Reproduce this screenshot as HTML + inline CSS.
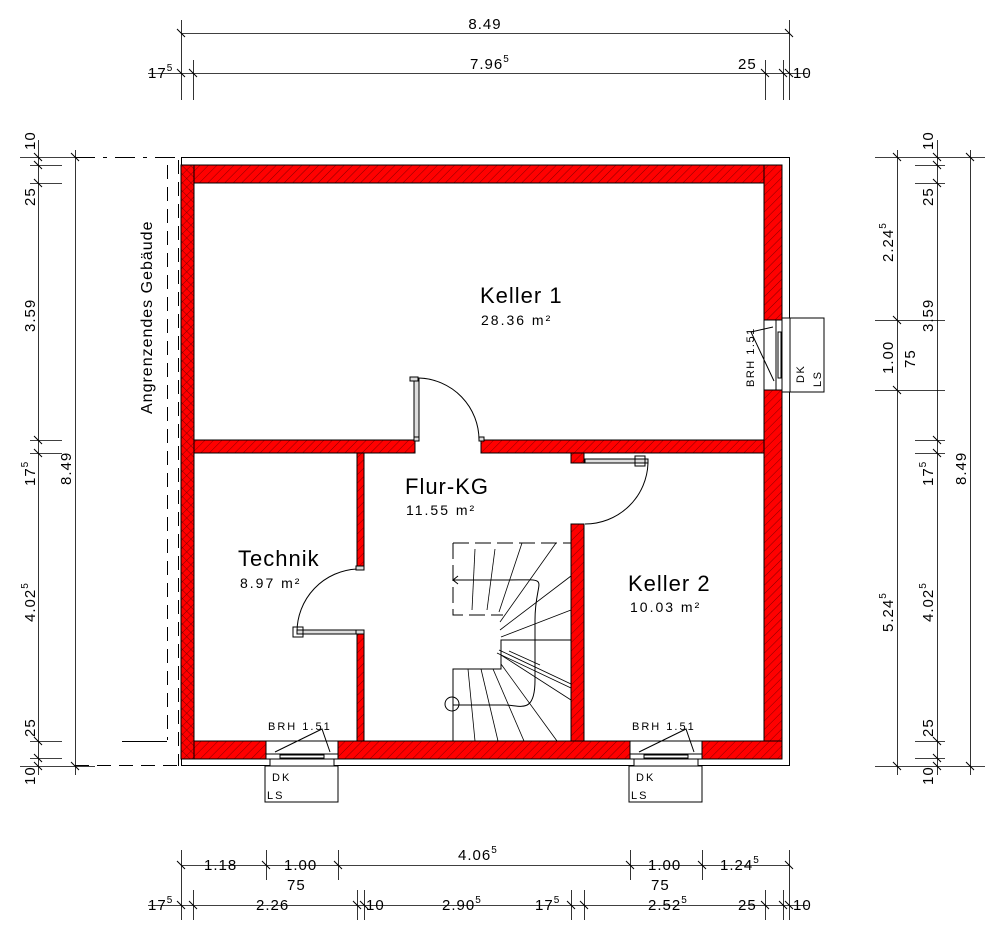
<!DOCTYPE html>
<html><head><meta charset="utf-8"><style>
html,body{margin:0;padding:0;background:#fff}
svg{display:block}
text{font-family:"Liberation Sans",sans-serif;fill:#000}
</style></head><body>
<svg width="1000" height="945" viewBox="0 0 1000 945" xmlns="http://www.w3.org/2000/svg">
<defs>
<pattern id="h" width="6" height="6" patternUnits="userSpaceOnUse" patternTransform="rotate(45)">
<rect width="6" height="6" fill="#f00"/><line x1="0" y1="0" x2="0" y2="6" stroke="#600" stroke-width="0.8"/>
</pattern>
<pattern id="x" width="6" height="6" patternUnits="userSpaceOnUse" patternTransform="rotate(45)">
<rect width="6" height="6" fill="#f00"/><line x1="0" y1="0" x2="0" y2="6" stroke="#600" stroke-width="0.8"/><line x1="0" y1="0" x2="6" y2="0" stroke="#600" stroke-width="0.8"/>
</pattern>
</defs>
<g stroke="#000" stroke-width="1" fill="none">
<!-- outer lines -->
<line x1="181" y1="157.5" x2="790" y2="157.5"/>
<line x1="789.5" y1="157" x2="789.5" y2="766"/>
<line x1="181" y1="765.5" x2="790" y2="765.5"/>
<line x1="181.5" y1="157" x2="181.5" y2="766"/>
</g>
<!-- walls -->
<g stroke="#000" stroke-width="1">
<rect x="194" y="165" width="588" height="18" fill="url(#h)"/>
<rect x="764" y="165" width="18" height="155" fill="url(#h)"/>
<rect x="764" y="390" width="18" height="369" fill="url(#h)"/>
<rect x="338" y="741" width="292" height="18" fill="url(#h)"/>
<rect x="194" y="741" width="72" height="18" fill="url(#h)"/>
<rect x="702" y="741" width="80" height="18" fill="url(#h)"/>
<rect x="181" y="165" width="13" height="594" fill="url(#x)"/>
<rect x="194" y="440" width="221" height="13" fill="url(#h)"/>
<rect x="481" y="440" width="283" height="13" fill="url(#h)"/>
<rect x="357" y="453" width="7" height="115" fill="url(#h)"/>
<rect x="357" y="632" width="7" height="109" fill="url(#h)"/>
<rect x="571" y="524" width="13" height="217" fill="url(#h)"/>
<rect x="571" y="453" width="13" height="10" fill="url(#h)"/>
</g>
<rect x="182" y="184" width="11" height="556" fill="url(#x)"/>
<rect x="195" y="183.5" width="568" height="256" fill="#fff"/>
<g stroke="#000" stroke-width="1" fill="none">
<!-- dashed adjacent building -->
<line x1="167.5" y1="165" x2="167.5" y2="740" stroke-dasharray="14,8"/>
<line x1="178.5" y1="160" x2="178.5" y2="766" stroke-dasharray="14,8"/>
<line x1="75" y1="157.5" x2="181" y2="157.5" stroke-dasharray="20,8,4,8"/>
<line x1="75" y1="765.5" x2="181" y2="765.5" stroke-dasharray="14,8"/>
<line x1="122" y1="741.5" x2="167" y2="741.5"/>
<!-- doors -->
<rect x="414" y="378" width="5" height="62" fill="#ddd"/>
<path d="M419 378 A62 62 0 0 1 479 440"/>
<rect x="410" y="377" width="8" height="4" fill="#ddd"/>
<rect x="585" y="459" width="63" height="4" fill="#ddd"/>
<path d="M648 463 A63 63 0 0 1 585 524"/>
<rect x="635" y="456" width="10" height="10" fill="none"/>
<rect x="297" y="630" width="60" height="4" fill="#ddd"/>
<path d="M297 632 A63 63 0 0 1 357 569"/>
<rect x="293" y="627" width="10" height="10"/>
<rect x="356" y="566" width="8" height="4" fill="#ddd"/>
<rect x="356" y="630" width="8" height="4" fill="#ddd"/>
<rect x="414" y="437" width="5" height="4" fill="#ddd"/>
<rect x="479" y="437" width="5" height="4" fill="#ddd"/>
<!-- right window -->
<rect x="764" y="320" width="18" height="70" fill="#fff"/>
<rect x="776" y="320" width="6" height="70"/>
<rect x="778" y="332" width="3" height="46"/>
<rect x="782" y="318" width="8" height="74" fill="#fff"/>
<rect x="790" y="318" width="34" height="74" fill="#fff"/>
<path d="M773 327 L751 332 L774 381"/>
<!-- bottom windows -->
<g id="bw">
<rect x="266" y="741" width="72" height="18" fill="#fff"/>
<rect x="266" y="754" width="72" height="5"/>
<rect x="280" y="755" width="44" height="3"/>
<rect x="270" y="759" width="64" height="7" fill="#fff"/>
<rect x="265" y="766" width="73" height="36" fill="#fff"/>
<path d="M275 752 L322 729 L330 752"/>
</g>
<use href="#bw" x="364"/>
<!-- stairs -->
<path d="M453 741 L453 669 L501 669 L501 640 L571 640"/>
<line x1="453" y1="741" x2="571" y2="741"/>
<path d="M453 543 L571 543 M453 543 L453 615 L503 615" stroke-dasharray="16,6"/>
<line x1="453" y1="580" x2="505" y2="580"/>
<path d="M458 576 L453 580 L458 584"/>
<path d="M505 580 C555 580 535 575 535 620 L535 680 C535 715 520 705 505 705 L453 705"/>
<circle cx="452" cy="704" r="7"/>
<g stroke-width="0.8">
<line x1="468" y1="669" x2="475" y2="741"/><line x1="481" y1="669" x2="498" y2="741"/>
<line x1="493" y1="669" x2="524" y2="741"/><line x1="501" y1="664" x2="557" y2="741"/>
<line x1="501" y1="655" x2="571" y2="700"/><line x1="499" y1="650" x2="571" y2="684"/>
<line x1="497" y1="653" x2="571" y2="688"/><line x1="501" y1="637" x2="571" y2="610"/>
<line x1="500" y1="630" x2="571" y2="576"/><line x1="500" y1="622" x2="556" y2="543"/>
<line x1="499" y1="612" x2="522" y2="543"/><line x1="487" y1="610" x2="495" y2="549"/>
<line x1="472" y1="610" x2="475" y2="549"/><line x1="509" y1="651" x2="540" y2="665"/>
</g>
<!-- dimension lines -->
<g stroke-width="0.8">
<line x1="181" y1="33.5" x2="790" y2="33.5"/>
<line x1="148" y1="73.5" x2="808" y2="73.5"/>
<line x1="181.5" y1="20" x2="181.5" y2="100"/><line x1="193.5" y1="60" x2="193.5" y2="100"/>
<line x1="765.5" y1="60" x2="765.5" y2="100"/><line x1="783.5" y1="60" x2="783.5" y2="100"/>
<line x1="789.5" y1="20" x2="789.5" y2="100"/>
<line x1="20" y1="157.5" x2="95" y2="157.5"/><line x1="20" y1="766.5" x2="95" y2="766.5"/>
<line x1="75.5" y1="150" x2="75.5" y2="775"/>
<line x1="38.5" y1="140" x2="38.5" y2="775"/>
<line x1="30" y1="165.5" x2="62" y2="165.5"/><line x1="30" y1="183.5" x2="62" y2="183.5"/>
<line x1="30" y1="440.5" x2="62" y2="440.5"/><line x1="30" y1="453.5" x2="62" y2="453.5"/>
<line x1="30" y1="741.5" x2="62" y2="741.5"/><line x1="30" y1="758.5" x2="62" y2="758.5"/>
<line x1="875" y1="157.5" x2="985" y2="157.5"/><line x1="875" y1="766.5" x2="985" y2="766.5"/>
<line x1="897.5" y1="150" x2="897.5" y2="775"/><line x1="937.5" y1="140" x2="937.5" y2="775"/>
<line x1="970.5" y1="150" x2="970.5" y2="775"/>
<line x1="875" y1="320.5" x2="945" y2="320.5"/><line x1="875" y1="390.5" x2="945" y2="390.5"/>
<line x1="915" y1="165.5" x2="945" y2="165.5"/><line x1="915" y1="183.5" x2="945" y2="183.5"/>
<line x1="915" y1="440.5" x2="945" y2="440.5"/><line x1="915" y1="453.5" x2="945" y2="453.5"/>
<line x1="915" y1="741.5" x2="945" y2="741.5"/><line x1="915" y1="758.5" x2="945" y2="758.5"/>
<line x1="181" y1="865.5" x2="790" y2="865.5"/>
<line x1="148" y1="905.5" x2="808" y2="905.5"/>
<line x1="181.5" y1="850" x2="181.5" y2="920"/><line x1="266.5" y1="850" x2="266.5" y2="880"/>
<line x1="338.5" y1="850" x2="338.5" y2="880"/><line x1="630.5" y1="850" x2="630.5" y2="880"/>
<line x1="702.5" y1="850" x2="702.5" y2="880"/><line x1="789.5" y1="850" x2="789.5" y2="920"/>
<line x1="193.5" y1="890" x2="193.5" y2="920"/><line x1="357.5" y1="890" x2="357.5" y2="920"/>
<line x1="364.5" y1="890" x2="364.5" y2="920"/><line x1="571.5" y1="890" x2="571.5" y2="920"/>
<line x1="584.5" y1="890" x2="584.5" y2="920"/><line x1="765.5" y1="890" x2="765.5" y2="920"/>
<line x1="783.5" y1="890" x2="783.5" y2="920"/>
</g>
</g>
<!-- tick slashes -->
<g stroke="#000" stroke-width="1">
<path d="M177 29l8 8M785 29l8 8M177 69l8 8M189 69l8 8M761 69l8 8M779 69l8 8M785 69l8 8"/>
<path d="M71 153l8 8M71 762l8 8M34 161l8 8M34 179l8 8M34 436l8 8M34 449l8 8M34 737l8 8M34 754l8 8M34 153l8 8M34 762l8 8"/>
<path d="M893 153l8 8M893 316l8 8M893 386l8 8M893 762l8 8M966 153l8 8M966 762l8 8M933 153l8 8M933 161l8 8M933 179l8 8M933 436l8 8M933 449l8 8M933 737l8 8M933 754l8 8M933 762l8 8"/>
<path d="M177 861l8 8M262 861l8 8M334 861l8 8M626 861l8 8M698 861l8 8M785 861l8 8"/>
<path d="M177 901l8 8M189 901l8 8M353 901l8 8M360 901l8 8M567 901l8 8M580 901l8 8M761 901l8 8M779 901l8 8M785 901l8 8"/>
</g>
<!-- labels -->
<g font-size="15" letter-spacing="1">
<text x="485" y="29" text-anchor="middle">8.49</text>
<text x="148" y="78">17<tspan font-size="10" dy="-7">5</tspan></text>
<text x="470" y="69">7.96<tspan font-size="10" dy="-7">5</tspan></text>
<text x="738" y="69">25</text>
<text x="793" y="78">10</text>
<text x="204" y="870">1.18</text>
<text x="284" y="870">1.00</text>
<text x="458" y="860">4.06<tspan font-size="10" dy="-7">5</tspan></text>
<text x="648" y="870">1.00</text>
<text x="720" y="870">1.24<tspan font-size="10" dy="-7">5</tspan></text>
<text x="287" y="890">75</text>
<text x="651" y="890">75</text>
<text x="148" y="910">17<tspan font-size="10" dy="-7">5</tspan></text>
<text x="256" y="910">2.26</text>
<text x="366" y="910">10</text>
<text x="442" y="910">2.90<tspan font-size="10" dy="-7">5</tspan></text>
<text x="535" y="910">17<tspan font-size="10" dy="-7">5</tspan></text>
<text x="648" y="910">2.52<tspan font-size="10" dy="-7">5</tspan></text>
<text x="738" y="910">25</text>
<text x="793" y="910">10</text>
<g transform="rotate(-90)">
<text x="-150" y="35">10</text>
<text x="-206" y="35">25</text>
<text x="-332" y="35">3.59</text>
<text x="-486" y="35">17<tspan font-size="10" dy="-7">5</tspan></text>
<text x="-622" y="35">4.02<tspan font-size="10" dy="-7">5</tspan></text>
<text x="-737" y="35">25</text>
<text x="-785" y="35">10</text>
<text x="-485" y="71">8.49</text>
<text x="-150" y="933">10</text>
<text x="-206" y="933">25</text>
<text x="-332" y="933">3.59</text>
<text x="-486" y="933">17<tspan font-size="10" dy="-7">5</tspan></text>
<text x="-622" y="933">4.02<tspan font-size="10" dy="-7">5</tspan></text>
<text x="-737" y="933">25</text>
<text x="-785" y="933">10</text>
<text x="-485" y="966">8.49</text>
<text x="-262" y="893">2.24<tspan font-size="10" dy="-7">5</tspan></text>
<text x="-374" y="893">1.00</text>
<text x="-368" y="915">75</text>
<text x="-632" y="893">5.24<tspan font-size="10" dy="-7">5</tspan></text>
<text x="-414" y="152" font-size="16">Angrenzendes Gebäude</text>
<text x="-387" y="754" font-size="11" letter-spacing="1.5">BRH 1.51</text>
<text x="-383" y="804" font-size="11" letter-spacing="1.5">DK</text>
<text x="-387" y="821" font-size="11" letter-spacing="1.5">LS</text>
</g>
</g>
<g font-size="11" letter-spacing="2">
<text x="268" y="730">BRH 1.51</text><text x="632" y="730">BRH 1.51</text>
<text x="272" y="781">DK</text><text x="636" y="781">DK</text>
<text x="267" y="799">LS</text><text x="631" y="799">LS</text>
</g>
<g font-size="22" letter-spacing="1">
<text x="480" y="303">Keller 1</text>
<text x="405" y="494">Flur-KG</text>
<text x="238" y="566">Technik</text>
<text x="628" y="591">Keller 2</text>
</g>
<g font-size="14" letter-spacing="2">
<text x="481" y="325">28.36 m²</text>
<text x="406" y="515">11.55 m²</text>
<text x="240" y="588">8.97 m²</text>
<text x="630" y="612">10.03 m²</text>
</g>
</svg>
</body></html>
